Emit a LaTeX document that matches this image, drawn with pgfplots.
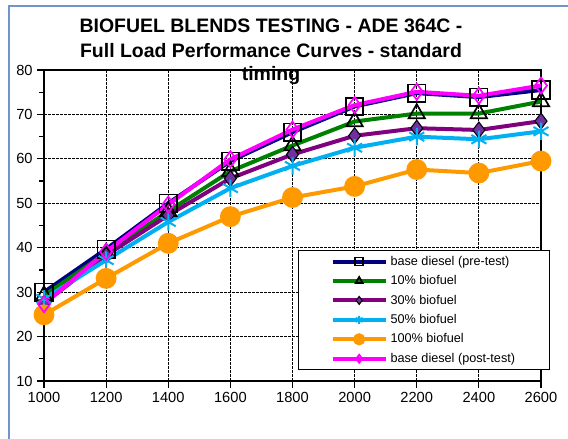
\documentclass[border=0pt]{standalone}
\usepackage{fontspec}
\setmainfont{Liberation Sans}
\usepackage{pgfplots}
\pgfplotsset{compat=1.18}
\definecolor{cnavy}{RGB}{0,0,128}
\definecolor{cgreen}{RGB}{0,128,0}
\definecolor{cpurple}{RGB}{128,0,128}
\definecolor{cpurpfill}{RGB}{112,48,160}
\definecolor{ccyan}{RGB}{0,176,240}
\definecolor{corange}{RGB}{255,153,0}
\definecolor{cmag}{RGB}{255,0,255}
\definecolor{cframe}{RGB}{110,150,205}
\begin{document}
\begin{tikzpicture}
\useasboundingbox (0pt,0pt) rectangle (426pt,329.25pt);
\draw[cframe, line width=1.5pt] (6.75pt,-2pt) -- (6.75pt,324.75pt) -- (430pt,324.75pt);
\begin{axis}[
  at={(33pt,43.5pt)}, anchor=south west,
  scale only axis, width=372.75pt, height=233.25pt,
  xmin=1000, xmax=2600, ymin=10, ymax=80,
  xtick={1000,1200,...,2600}, ytick={10,20,...,80},
  minor y tick num=1,
  tick align=outside, tick pos=left,
  major tick length=5pt, minor tick length=3.5pt,
  every tick/.style={black, line width=0.9pt},
  axis line style={black, line width=1pt},
  grid=major,
  major grid style={black, line width=0.7pt, dash pattern=on 2pt off 1pt},
  ticklabel style={font=\fontsize{11}{13}\selectfont},
  /pgf/number format/assume math mode=true,
  /pgf/number format/1000 sep={},
  clip=false,
  legend style={at={(0.511,0.421)}, anchor=north west, draw=black, line width=0.8pt, fill=white,
    font=\fontsize{9.5}{11}\selectfont, inner xsep=24pt, inner ysep=2pt, row sep=2.2pt,
    legend cell align=left},
  legend image code/.code={\draw[mark repeat=2,mark phase=2,#1,mark size=3pt] plot coordinates {(0pt,0pt) (20pt,0pt) (40pt,0pt)};},
]
\addplot[cnavy, line width=3pt, mark=square, mark size=6.5pt, mark options={draw=black, fill=none, line width=1.3pt, solid}]
  coordinates {(1000,30) (1200,39.7) (1400,50) (1600,59.5) (1800,66) (2000,71.8) (2200,74.8) (2400,73.9) (2600,75.5)};
\addlegendentry{base diesel (pre-test)}
\addplot[cgreen, line width=3pt, mark=triangle, mark size=7pt, mark options={draw=black, fill=white, line width=1.3pt, solid}]
  coordinates {(1000,29.2) (1200,38.8) (1400,48.2) (1600,57.2) (1800,63) (2000,68.4) (2200,70.2) (2400,70.2) (2600,72.9)};
\addlegendentry{10\% biofuel}
\addplot[cpurple, line width=3pt, mark=diamond*, mark size=6pt, mark options={draw=black, fill=cpurpfill, line width=0.8pt, solid}]
  coordinates {(1000,27.5) (1200,38.3) (1400,47.3) (1600,55.6) (1800,61) (2000,65.2) (2200,66.9) (2400,66.5) (2600,68.5)};
\addlegendentry{30\% biofuel}
\addplot[ccyan, line width=3pt, mark=asterisk, mark size=6.5pt, mark options={ccyan, line width=1.5pt, solid}]
  coordinates {(1000,28.5) (1200,37.2) (1400,45.8) (1600,53.4) (1800,58.4) (2000,62.5) (2200,65) (2400,64.4) (2600,66.2)};
\addlegendentry{50\% biofuel}
\addplot[corange, line width=3pt, mark=*, mark size=6.3pt, mark options={corange, fill=corange, solid}]
  coordinates {(1000,24.9) (1200,33.1) (1400,41) (1600,47) (1800,51.3) (2000,53.8) (2200,57.6) (2400,56.8) (2600,59.5)};
\addlegendentry{100\% biofuel}
\addplot[cmag, line width=3pt, mark=diamond, mark size=6pt, mark options={cmag, fill=none, line width=1.3pt, solid}]
  coordinates {(1000,27.3) (1200,39.1) (1400,49.7) (1600,59.9) (1800,66.6) (2000,72.1) (2200,75.1) (2400,74.2) (2600,76.5)};
\addlegendentry{base diesel (post-test)}
\end{axis}
\node[anchor=base, font=\bfseries\fontsize{14.6}{17}\selectfont] at (203.25pt,304.5pt) {BIOFUEL BLENDS TESTING - ADE 364C -};
\node[anchor=base, font=\bfseries\fontsize{14.6}{17}\selectfont] at (203.25pt,285.75pt) {Full Load Performance Curves - standard};
\node[anchor=base, font=\bfseries\fontsize{14.6}{17}\selectfont] at (203.25pt,268.5pt) {timing};
\end{tikzpicture}
\end{document}
